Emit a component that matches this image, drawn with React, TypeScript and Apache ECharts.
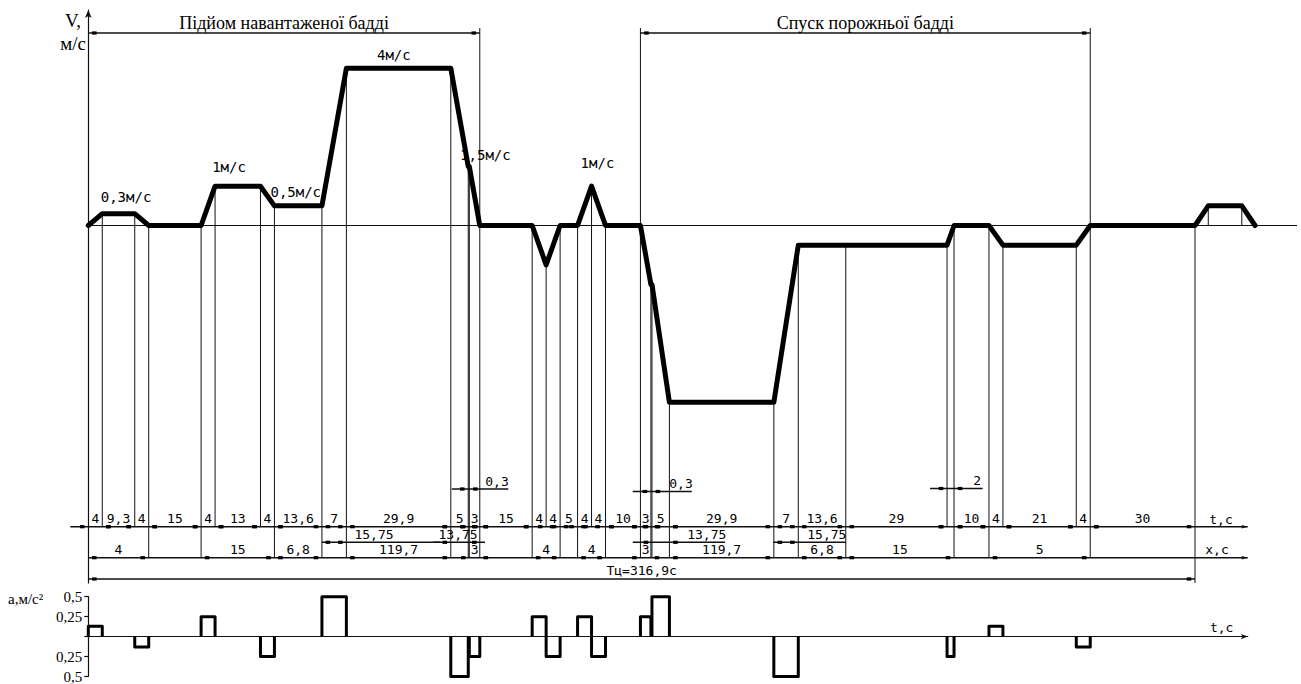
import React, { useEffect, useRef } from "react";
import * as echarts from "echarts";

// ---------------- data ----------------
// durations of the t-row (s), in order
const tDurations = [4, 9.3, 4, 15, 4, 13, 4, 13.6, 7, 29.9, 5, 0.3, 3, 15, 4, 4, 5, 4, 4, 10, 3, 0.3, 5, 29.9, 7, 13.6, 29, 2, 10, 4, 21, 4, 30];
// speed (m/s) at every break point of the t-row
const vAtBreaks = [0, 0.3, 0.3, 0, 0, 1, 1, 0.5, 0.5, 4, 4, 1.5, 1.5, 0, 0, -1, 0, 0, 1, 0, 0, -1.5, -1.5, -4.5, -4.5, -0.5, -0.5, -0.5, 0, 0, -0.5, -0.5, 0, 0];
// start of the next cycle
const nextCycleT = [320.7, 330.3, 334.1];
const nextCycleV = [0.5, 0.5, 0];

// x-row (distance) segments: break indices and values
const distStart = [0, 4, 7, 9, 12, 14, 17, 20, 23, 25, 26, 29];
const distEnd = [3, 7, 8, 10, 13, 16, 19, 21, 24, 26, 28, 32];
const distValues = [4, 15, 6.8, 119.7, 3, 4, 4, 3, 119.7, 6.8, 15, 5];

// partial paths on acceleration segments
const pathSeg = [8, 10, 22, 24];
const pathValues = [15.75, 13.75, 13.75, 15.75];

// short segments dimensioned with a leader
const leaderSeg = [11, 21, 27];

// acceleration pulses: t-row segment index and value (m/s²)
const accelSeg = [0, 2, 4, 6, 8, 10, 12, 14, 15, 17, 18, 20, 22, 24, 27, 29, 31];
const accelValues = [0.13, -0.13, 0.25, -0.25, 0.5, -0.5, -0.25, 0.25, -0.25, 0.25, -0.25, 0.25, 0.5, -0.5, -0.25, 0.13, -0.13];

const cycleTime = 316.9;
const phaseNames = ["Підйом навантаженої бадді", "Спуск порожньої бадді"];
const phaseStart = [0, 20];
const phaseEnd = [13, 32];

const speedLabels = ["0,3м/с", "1м/с", "0,5м/с", "4м/с", "1,5м/с", "1м/с"];

// ---------------- layout ----------------
const PX_PER_S = 3.4923;
const X0 = 88.3;
const V0_Y = 225.5;
const PX_PER_V = 39.3;
const V_TOP_Y = 10;
const V_BOTTOM_Y = 583;
const T_ROW_Y = 526.7;
const X_ROW_Y = 557.7;
const MID_ROW_Y = 542.3;
const TC_ROW_Y = 579;
const TOP_DIM_Y = 33;
const TOP_EXT_Y = 28;
const MAIN_MAX_T = 346;
const ROW_END_T = 332;
const extRow = [0, 1, 1, 2, 2, 1, 1, 2, 2, 2, 2, 2, 2, 2, 2, 1, 2, 2, 1, 2, 2, 2, 2, 2, 2, 2, 2, 1, 2, 2, 1, 1, 2, 3];
const rowBottom = [0, T_ROW_Y, X_ROW_Y, V_BOTTOM_Y];
const leaderY = [489, 491.5, 488.5];
const leaderL = [-16.5, -18.2, -17];
const leaderR = [39, 39.8, 28.6];
const leaderDx = [27.7, 29, 23];
const midL = [0, -17.5, -19.2, -0.5];
const midR = [94.3, 16.8, 55.6, 47.8];
const midDx = [27.6, -10.2, 37.3, 28.5];
const speedLabelPos = [
  [10.8, 0.733],
  [40.3, 1.496],
  [59.4, 0.86],
  [87.5, 4.34],
  [113.7, 1.786],
  [145.8, 1.583],
];

const DIM_FONT = '13px "DejaVu Sans Mono"';
const SPEED_FONT = '14px "DejaVu Sans Mono"';
const SERIF = '"Liberation Serif", "DejaVu Serif", serif';
const INK = "#111";

const fmt = (v: number) => String(v).replace(".", ",");

const tBreaks: number[] = [0];
tDurations.forEach((d) => {
  tBreaks.push(Math.round((tBreaks[tBreaks.length - 1] + d) * 100) / 100);
});

type DimRec = {
  a: number;
  b: number;
  y: number;
  text?: string;
  l?: number;
  r?: number;
  dx?: number; // label centre relative to the right end
  dy?: number;
  markers?: boolean;
  noLine?: boolean;
  arrow?: boolean;
  width?: number;
  font?: string;
};

const dims: DimRec[] = [];
phaseNames.forEach((name, i) => {
  dims.push({
    a: tBreaks[phaseStart[i]],
    b: tBreaks[phaseEnd[i]],
    y: TOP_DIM_Y,
    text: name,
    dy: -9.6,
    width: 1.3,
    font: "18px " + SERIF,
  });
});
dims.push({ a: 0, b: ROW_END_T, y: T_ROW_Y, l: -18, markers: false, arrow: true, width: 1.6 });
tDurations.forEach((d, k) => {
  const isLeader = leaderSeg.indexOf(k) >= 0;
  dims.push({ a: tBreaks[k], b: tBreaks[k + 1], y: T_ROW_Y, text: isLeader ? undefined : fmt(d), noLine: true });
});
leaderSeg.forEach((k, i) => {
  dims.push({
    a: tBreaks[k],
    b: tBreaks[k + 1],
    y: leaderY[i],
    text: fmt(tDurations[k]),
    l: leaderL[i],
    r: leaderR[i],
    dx: leaderDx[i],
    width: 1.5,
  });
});
pathSeg.forEach((k, i) => {
  dims.push({
    a: tBreaks[k],
    b: tBreaks[k + 1],
    y: MID_ROW_Y,
    text: fmt(pathValues[i]),
    l: midL[i],
    r: midR[i],
    dx: midDx[i],
    width: 1.5,
  });
});
dims.push({ a: 0, b: ROW_END_T, y: X_ROW_Y, markers: false, arrow: true, width: 1.6 });
distValues.forEach((v, i) => {
  dims.push({ a: tBreaks[distStart[i]], b: tBreaks[distEnd[i]], y: X_ROW_Y, text: fmt(v), noLine: true });
});
dims.push({ a: 0, b: cycleTime, y: TC_ROW_Y, text: "Тц=" + fmt(cycleTime) + "с", dy: -8.5, width: 1.6 });

type ExtRec = { t: number; v: number; top: boolean; yb: number | null };
const topSet = [phaseEnd[0], phaseStart[1], phaseEnd[1]];
const exts: ExtRec[] = [];
tBreaks.forEach((t, i) => {
  if (extRow[i] === 0) return;
  exts.push({ t, v: vAtBreaks[i], top: topSet.indexOf(i) >= 0, yb: rowBottom[extRow[i]] });
});
exts.push({ t: nextCycleT[0], v: nextCycleV[0], top: false, yb: null });
exts.push({ t: nextCycleT[1], v: nextCycleV[1], top: false, yb: null });

const velocityData: number[][] = tBreaks.map((t, i) => [t, vAtBreaks[i]]);
nextCycleT.forEach((t, i) => velocityData.push([t, nextCycleV[i]]));

function textEl(x: number, y: number, text: string, font: string, align = "center") {
  return {
    type: "text",
    x,
    y,
    silent: true,
    style: {
      text,
      font,
      fill: "#000",
      align,
      verticalAlign: "middle",
      textAlign: align,
      textVerticalAlign: "middle",
    },
  };
}

export default function App() {
  const ref = useRef<HTMLDivElement>(null);

  useEffect(() => {
    if (!ref.current) return;
    const chart = echarts.init(ref.current, undefined, { renderer: "svg" });

    const option: any = {
      animation: false,
      backgroundColor: "#fff",
      grid: [
        { left: X0, top: V_TOP_Y, width: MAIN_MAX_T * PX_PER_S, height: V_BOTTOM_Y - V_TOP_Y },
        { left: X0, top: 596.7, width: ROW_END_T * PX_PER_S, height: 80 },
      ],
      xAxis: [
        {
          type: "value",
          gridIndex: 0,
          min: 0,
          max: MAIN_MAX_T,
          axisLine: { show: true, onZero: true, lineStyle: { color: INK, width: 1 } },
          axisTick: { show: false },
          axisLabel: { show: false },
          splitLine: { show: false },
        },
        {
          type: "value",
          gridIndex: 1,
          min: 0,
          max: ROW_END_T,
          axisLine: {
            show: true,
            onZero: true,
            symbol: ["none", "arrow"],
            symbolSize: [4, 7],
            lineStyle: { color: INK, width: 1.2 },
          },
          axisTick: { show: false },
          axisLabel: { show: false },
          splitLine: { show: false },
        },
      ],
      yAxis: [
        {
          type: "value",
          gridIndex: 0,
          min: -(V_BOTTOM_Y - V0_Y) / PX_PER_V,
          max: (V0_Y - V_TOP_Y) / PX_PER_V,
          axisLine: {
            show: true,
            onZero: false,
            symbol: ["none", "arrow"],
            symbolSize: [5, 8],
            lineStyle: { color: INK, width: 1.2 },
          },
          axisTick: { show: false },
          axisLabel: { show: false },
          splitLine: { show: false },
        },
        {
          type: "value",
          gridIndex: 1,
          min: -0.5,
          max: 0.5,
          interval: 0.25,
          axisLine: { show: true, onZero: false, lineStyle: { color: INK, width: 1.2 } },
          axisTick: { show: true, length: 4, lineStyle: { color: INK, width: 1.2 } },
          axisLabel: {
            show: true,
            margin: 6,
            color: "#000",
            fontFamily: SERIF,
            fontSize: 15,
            formatter: (v: number) => (v === 0 ? "" : fmt(Math.abs(v))),
          },
          splitLine: { show: false },
        },
      ],
      graphic: [
        textEl(73, 20, "V,", "19px " + SERIF),
        textEl(86, 43, "м/с", "19px " + SERIF, "right"),
        textEl(8, 599, "a,м/с²", "15px " + SERIF, "left"),
        textEl(1221, 519, "t,с", DIM_FONT),
        textEl(1217, 549.5, "x,с", DIM_FONT),
        textEl(1221.7, 627.5, "t,с", DIM_FONT),
      ],
      series: [
        {
          type: "custom",
          name: "extension",
          xAxisIndex: 0,
          yAxisIndex: 0,
          clip: false,
          z: 1,
          silent: true,
          data: exts.map((e) => [e.t, e.v]),
          renderItem: (params: any, api: any) => {
            const e = exts[params.dataIndex];
            const p = api.coord([e.t, e.v]);
            const yTop = e.top ? TOP_EXT_Y : p[1];
            const yb = e.yb === null ? api.coord([e.t, 0])[1] : e.yb;
            return {
              type: "line",
              shape: { x1: p[0], y1: yTop, x2: p[0], y2: yb },
              style: { stroke: INK, lineWidth: 1 },
            };
          },
        },
        {
          type: "custom",
          name: "dimensions",
          xAxisIndex: 0,
          yAxisIndex: 0,
          clip: false,
          z: 2,
          silent: true,
          data: dims.map((d) => [d.a, 0]),
          renderItem: (params: any, api: any) => {
            const d = dims[params.dataIndex];
            const x0 = api.coord([d.a, 0])[0];
            const x1 = api.coord([d.b, 0])[0];
            const children: any[] = [];
            if (!d.noLine) {
              children.push({
                type: "line",
                shape: { x1: x0 + (d.l || 0), y1: d.y, x2: x1 + (d.r || 0), y2: d.y },
                style: { stroke: INK, lineWidth: d.width || 1.5 },
              });
            }
            if (d.arrow) {
              children.push({
                type: "polygon",
                shape: { points: [[x1, d.y], [x1 - 6, d.y - 1.8], [x1 - 6, d.y + 1.8]] },
                style: { fill: INK },
              });
            }
            if (d.markers !== false) {
              const w = x1 - x0;
              const ms = w >= 22 ? [x0 + 6, x1 - 6] : [x0 - 6, x1 + 6];
              ms.forEach((m) => {
                children.push({
                  type: "rect",
                  shape: { x: m - 2.3, y: d.y - 1.6, width: 4.6, height: 3.2 },
                  style: { fill: "#000" },
                });
              });
            }
            if (d.text) {
              const cx = d.dx !== undefined ? x1 + d.dx : (x0 + x1) / 2;
              children.push(textEl(cx, d.y + (d.dy !== undefined ? d.dy : -8), d.text, d.font || DIM_FONT));
            }
            return { type: "group", children };
          },
        },
        {
          type: "custom",
          name: "speed labels",
          xAxisIndex: 0,
          yAxisIndex: 0,
          clip: false,
          z: 3,
          silent: true,
          data: speedLabelPos,
          renderItem: (params: any, api: any) => {
            const p = api.coord(speedLabelPos[params.dataIndex]);
            return textEl(p[0], p[1], speedLabels[params.dataIndex], SPEED_FONT);
          },
        },
        {
          type: "line",
          name: "V",
          xAxisIndex: 0,
          yAxisIndex: 0,
          z: 4,
          silent: true,
          showSymbol: false,
          symbol: "none",
          data: velocityData,
          lineStyle: { color: "#000", width: 5, join: "round", cap: "round" },
        },
        {
          type: "custom",
          name: "a",
          xAxisIndex: 1,
          yAxisIndex: 1,
          clip: false,
          z: 4,
          silent: true,
          data: accelSeg.map((s, i) => [tBreaks[s], accelValues[i]]),
          renderItem: (params: any, api: any) => {
            const i = params.dataIndex;
            const s = accelSeg[i];
            const t0 = tBreaks[s];
            const t1 = tBreaks[s + 1];
            const a = accelValues[i];
            const pts = [api.coord([t0, 0]), api.coord([t0, a]), api.coord([t1, a]), api.coord([t1, 0])];
            return {
              type: "polyline",
              shape: { points: pts },
              style: { stroke: "#000", lineWidth: 3, fill: "none", lineJoin: "round" },
            };
          },
        },
      ],
    };

    chart.setOption(option);
    return () => {
      chart.dispose();
    };
  }, []);

  return (
    <div
      ref={ref}
      style={{ position: "absolute", left: 0, top: 0, width: 1301, height: 684, background: "#fff" }}
    />
  );
}
